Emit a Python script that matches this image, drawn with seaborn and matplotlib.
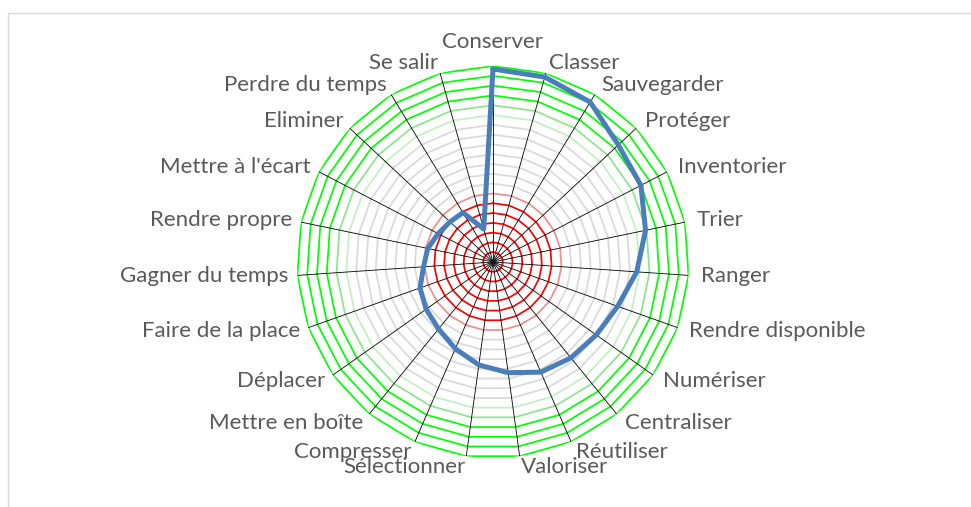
import numpy as np
import pandas as pd
import matplotlib
matplotlib.use('Agg')
import matplotlib.pyplot as plt
import seaborn as sns
from matplotlib.patches import Rectangle

# Data (20 rings)
categories = ['Conserver', 'Classer', 'Sauvegarder', 'Protéger', 'Inventorier',
              'Trier', 'Ranger', 'Rendre disponible', 'Numériser', 'Centraliser',
              'Réutiliser', 'Valoriser', 'Sélectionner', 'Compresser',
              'Mettre en boîte', 'Déplacer', 'Faire de la place', 'Gagner du temps',
              'Rendre propre', "Mettre à l'écart", 'Eliminer', 'Perdre du temps',
              'Se salir']
values = [19.7, 19.6, 19.1, 17.5, 17.0, 15.9, 14.7, 13.5, 12.9, 12.6, 12.25,
          11.4, 10.6, 9.65, 8.8, 8.35, 7.9, 7.1, 6.8, 6.3, 6.0, 5.9, 3.5]
ring_max = 20
ring_colors = (['#FF0000'] * 6 + ['#F08C8C'] + ['#D9D9D9'] * 7
               + ['#C4EEC4', '#8EE38E'] + ['#00FF00'] * 4)

sns.set_theme(style='white')
plt.rcParams['font.family'] = ['Lato', 'DejaVu Sans']

n = len(categories)
angles = np.arange(n) * 2 * np.pi / n
closed = np.append(angles, 2 * np.pi)

fig = plt.figure(figsize=(9.71, 5.07), dpi=100)
fig.patches.append(Rectangle((7.5 / 971, -0.1), 1.2, 1 - 12.5 / 507 + 0.1,
                             transform=fig.transFigure, fill=False,
                             edgecolor='#D9D9D9', lw=1.0))

ax = fig.add_axes([0.3058, 0.0966, 0.4038, 0.7732], projection='polar')
ax.set_theta_zero_location('N')
ax.set_theta_direction(-1)

# polygon rings
for k in range(1, ring_max + 1):
    ax.plot(closed, [k] * (n + 1), color=ring_colors[k - 1], lw=1.25, zorder=1)

# spokes
for a in angles:
    ax.plot([a, a], [0, ring_max], color='black', lw=0.6, zorder=2)

# data series
df = pd.DataFrame({'angle': closed, 'value': values + [values[0]]})
sns.lineplot(data=df, x='angle', y='value', sort=False, ax=ax,
             color='#4A7EBB', lw=3.6, zorder=3)
for line in ax.lines[-1:]:
    line.set_solid_joinstyle('round')

ax.set_ylim(0, ring_max)
ax.axis('off')

# category labels
for a, name in zip(angles, categories):
    s, c = np.sin(a), np.cos(a)
    if abs(s) < 0.05:
        ha, va, ox, oy = 'center', 'bottom', 0, 10
    else:
        ha = 'left' if s > 0 else 'right'
        va = 'center'
        ox, oy = (9 * s if s > 0 else 6.5 * s), 8 * c
    ax.annotate(name, xy=(a, ring_max), xytext=(ox, oy),
                textcoords='offset points', ha=ha, va=va,
                fontsize=16, color='#595959', annotation_clip=False)

fig.savefig('out.png', dpi=100)
